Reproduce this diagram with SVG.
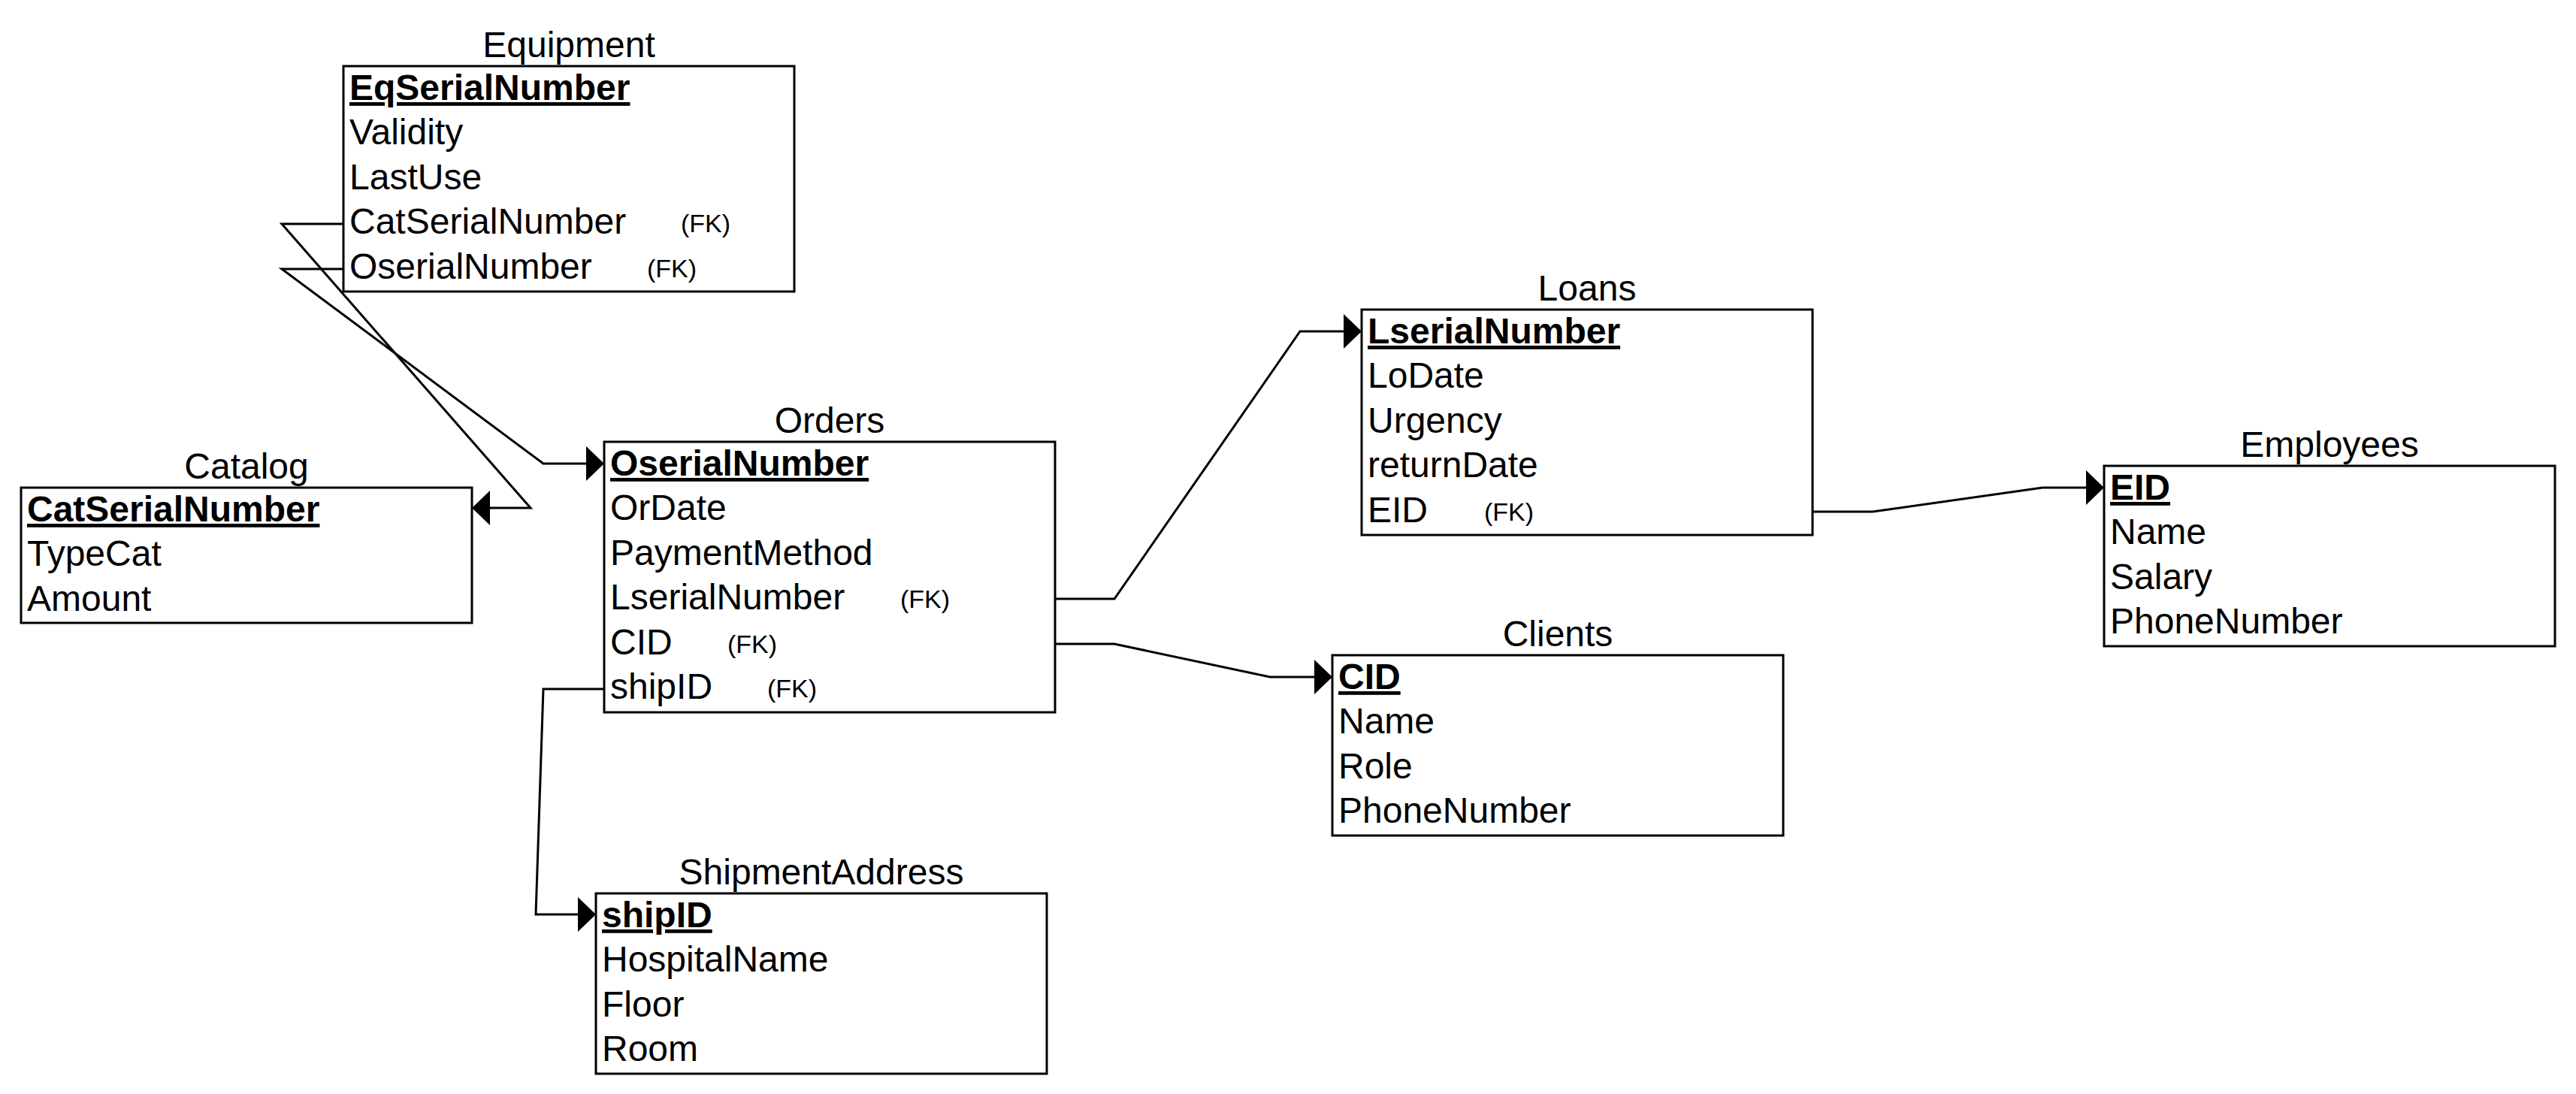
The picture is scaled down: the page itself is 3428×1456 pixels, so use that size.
<svg xmlns="http://www.w3.org/2000/svg" width="3428" height="1456" viewBox="0 0 3428 1456">
<style>
  .box { fill: #ffffff; stroke: #000000; stroke-width: 3; }
  .title { font-family: "Liberation Sans", Arial, sans-serif; font-size: 48px; fill: #000; text-anchor: middle; }
  .row { font-family: "Liberation Sans", Arial, sans-serif; font-size: 48px; fill: #000; }
  .pk { font-family: "Liberation Sans", Arial, sans-serif; font-size: 48px; font-weight: bold; fill: #000; text-decoration: underline; }
  .fk { font-family: "Liberation Sans", Arial, sans-serif; font-size: 34px; fill: #000; }
  .conn { fill: none; stroke: #000; stroke-width: 3; stroke-linejoin: miter; }
</style>
<defs>
  <marker id="arrow" viewBox="0 0 24 46" refX="0" refY="23" markerWidth="24" markerHeight="46" orient="auto" markerUnits="userSpaceOnUse">
    <path d="M0,0 L24,23 L0,46 Z" fill="#000"/>
  </marker>
</defs>
<rect width="3428" height="1456" fill="#ffffff"/>

<g id="connectors">
  <path class="conn" d="M457,298 H375 L706,676 H652" marker-end="url(#arrow)"/>
  <path class="conn" d="M457,358 H375 L723,617 H780" marker-end="url(#arrow)"/>
  <path class="conn" d="M1404,797 H1483 L1730,441 H1788" marker-end="url(#arrow)"/>
  <path class="conn" d="M1404,857 H1483 L1690,901 H1749" marker-end="url(#arrow)"/>
  <path class="conn" d="M804,917 H723 L713,1217 H769" marker-end="url(#arrow)"/>
  <path class="conn" d="M2412,681 H2492 L2718,649 H2776" marker-end="url(#arrow)"/>
</g>

<g id="equipment">
  <text class="title" x="757" y="76">Equipment</text>
  <rect class="box" x="457" y="88" width="600" height="300"/>
  <text class="pk" x="465" y="133">EqSerialNumber</text>
  <text class="row" x="465" y="192">Validity</text>
  <text class="row" x="465" y="252">LastUse</text>
  <text class="row" x="465" y="311">CatSerialNumber</text>
  <text class="fk" x="906" y="309">(FK)</text>
  <text class="row" x="465" y="371">OserialNumber</text>
  <text class="fk" x="861" y="369">(FK)</text>
</g>

<g id="catalog">
  <text class="title" x="328" y="637">Catalog</text>
  <rect class="box" x="28" y="649" width="600" height="180"/>
  <text class="pk" x="36" y="694">CatSerialNumber</text>
  <text class="row" x="36" y="753">TypeCat</text>
  <text class="row" x="36" y="813">Amount</text>
</g>

<g id="orders">
  <text class="title" x="1104" y="576">Orders</text>
  <rect class="box" x="804" y="588" width="600" height="360"/>
  <text class="pk" x="812" y="633">OserialNumber</text>
  <text class="row" x="812" y="692">OrDate</text>
  <text class="row" x="812" y="752">PaymentMethod</text>
  <text class="row" x="812" y="811">LserialNumber</text>
  <text class="fk" x="1198" y="809">(FK)</text>
  <text class="row" x="812" y="871">CID</text>
  <text class="fk" x="968" y="869">(FK)</text>
  <text class="row" x="812" y="930">shipID</text>
  <text class="fk" x="1021" y="928">(FK)</text>
</g>

<g id="loans">
  <text class="title" x="2112" y="400">Loans</text>
  <rect class="box" x="1812" y="412" width="600" height="300"/>
  <text class="pk" x="1820" y="457">LserialNumber</text>
  <text class="row" x="1820" y="516">LoDate</text>
  <text class="row" x="1820" y="576">Urgency</text>
  <text class="row" x="1820" y="635">returnDate</text>
  <text class="row" x="1820" y="695">EID</text>
  <text class="fk" x="1975" y="693">(FK)</text>
</g>

<g id="employees">
  <text class="title" x="3100" y="608">Employees</text>
  <rect class="box" x="2800" y="620" width="600" height="240"/>
  <text class="pk" x="2808" y="665">EID</text>
  <text class="row" x="2808" y="724">Name</text>
  <text class="row" x="2808" y="784">Salary</text>
  <text class="row" x="2808" y="843">PhoneNumber</text>
</g>

<g id="clients">
  <text class="title" x="2073" y="860">Clients</text>
  <rect class="box" x="1773" y="872" width="600" height="240"/>
  <text class="pk" x="1781" y="917">CID</text>
  <text class="row" x="1781" y="976">Name</text>
  <text class="row" x="1781" y="1036">Role</text>
  <text class="row" x="1781" y="1095">PhoneNumber</text>
</g>

<g id="shipmentaddress">
  <text class="title" x="1093" y="1177">ShipmentAddress</text>
  <rect class="box" x="793" y="1189" width="600" height="240"/>
  <text class="pk" x="801" y="1234">shipID</text>
  <text class="row" x="801" y="1293">HospitalName</text>
  <text class="row" x="801" y="1353">Floor</text>
  <text class="row" x="801" y="1412">Room</text>
</g>
</svg>
